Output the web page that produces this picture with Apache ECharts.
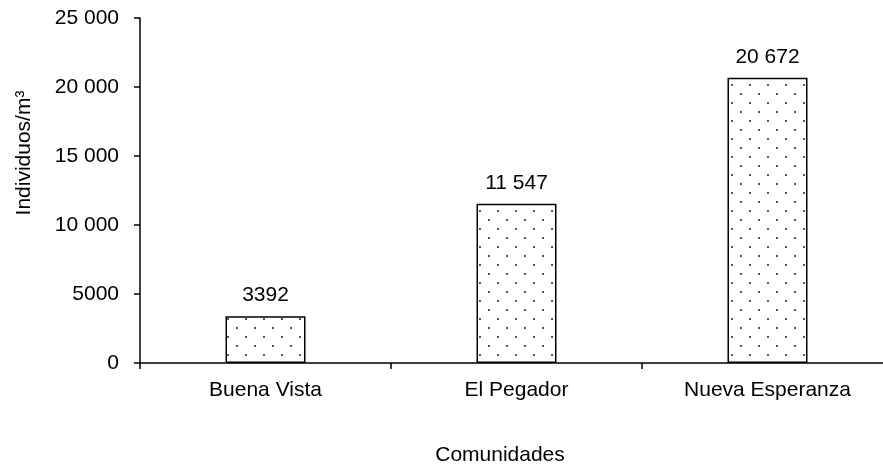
<!DOCTYPE html>
<html>
<head>
<meta charset="utf-8">
<script src="https://cdn.jsdelivr.net/npm/echarts@6/dist/echarts.min.js"></script>
<style>
html,body{margin:0;padding:0;background:#fff;overflow:hidden;width:883px;height:466px;}
#chart{width:893px;height:466px;}
</style>
</head>
<body>
<div id="chart"></div>
<script>
const categories = ['Buena Vista', 'El Pegador', 'Nueva Esperanza'];
const values = [3392, 11547, 20672];
const yTicks = [0, 5000, 10000, 15000, 20000, 25000];
const yAxisTitle = 'Individuos/m³';
const xAxisTitle = 'Comunidades';

function fmt(v) {
  if (v >= 10000) {
    const s = String(Math.round(v));
    return s.slice(0, s.length - 3) + ' ' + s.slice(-3);
  }
  return String(v);
}

// dotted fill pattern
const tile = document.createElement('canvas');
tile.width = 18; tile.height = 18;
const ctx = tile.getContext('2d');
ctx.fillStyle = '#ffffff';
ctx.fillRect(0, 0, 18, 18);
ctx.fillStyle = '#222222';
ctx.beginPath(); ctx.arc(3, 4, 1.0, 0, Math.PI * 2); ctx.fill();
ctx.beginPath(); ctx.arc(12, 13, 1.0, 0, Math.PI * 2); ctx.fill();

const FONT = 'Liberation Sans, Arial, sans-serif';
const FS = 21;
const chart = echarts.init(document.getElementById('chart'), null, {renderer: 'canvas'});
chart.setOption({
  backgroundColor: '#ffffff',
  animation: false,
  grid: {left: 140, top: 18, right: 0, bottom: 103, containLabel: false},
  xAxis: {
    type: 'category',
    data: categories,
    boundaryGap: true,
    axisLine: {lineStyle: {color: '#000', width: 1.5}},
    axisTick: {show: true, length: 6, lineStyle: {color: '#000', width: 1.5}},
    axisLabel: {color: '#000', fontSize: FS, fontFamily: FONT, margin: 17}
  },
  yAxis: {
    type: 'value',
    min: yTicks[0],
    max: yTicks[yTicks.length - 1],
    interval: yTicks[1] - yTicks[0],
    splitLine: {show: false},
    axisLine: {show: true, lineStyle: {color: '#000', width: 1.5}},
    axisTick: {show: true, length: 6, lineStyle: {color: '#000', width: 1.5}},
    axisLabel: {color: '#000', fontSize: FS, fontFamily: FONT, margin: 21, formatter: fmt}
  },
  graphic: [
    {type: 'text', rotation: Math.PI / 2, x: 24, y: 153,
     style: {text: yAxisTitle, font: FS + 'px ' + FONT, fill: '#000', align: 'center', verticalAlign: 'middle'}},
    {type: 'text', x: 500, y: 455,
     style: {text: xAxisTitle, font: FS + 'px ' + FONT, fill: '#000', align: 'center', verticalAlign: 'middle'}}
  ],
  series: [{
    type: 'bar',
    data: values,
    barWidth: 80,
    itemStyle: {color: {image: tile, repeat: 'repeat'}, borderColor: '#000', borderWidth: 1.5},
    label: {show: true, position: 'top', distance: 10, color: '#000', fontSize: FS, fontFamily: FONT,
            formatter: p => fmt(p.value)}
  }]
});
</script>
</body>
</html>
